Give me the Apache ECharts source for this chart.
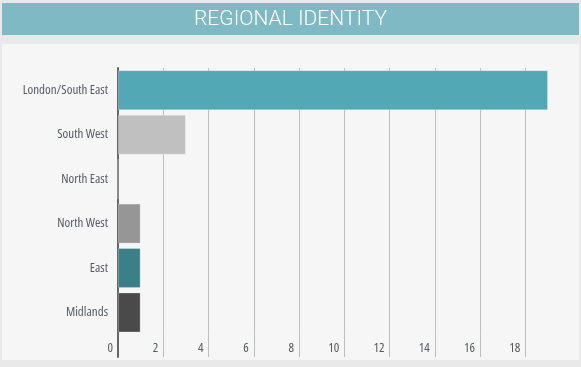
<!DOCTYPE html>
<html>
<head>
<meta charset="utf-8">
<script src="https://cdn.jsdelivr.net/npm/echarts@6/dist/echarts.min.js"></script>
<style>
html,body{margin:0;padding:0;background:#e9e9e9;}
#chart{width:581px;height:367px;}
</style>
</head>
<body>
<div id="chart"></div>
<script>
const titleText = 'REGIONAL IDENTITY';
const categories = ['London/South East', 'South West', 'North East', 'North West', 'East', 'Midlands'];
const values = [19, 3, 0, 1, 1, 1];
const barColors = ['#52a8b5', '#c0c0c0', '#cccccc', '#969696', '#3b7f87', '#4a4a4a'];
const xMin = 0, xMax = 19, xStep = 2;

const labelFont = '"Open Sans", "Liberation Sans", sans-serif';
const labelWeight = '400 condensed';

const chart = echarts.init(document.getElementById('chart'), null, {renderer: 'canvas'});
chart.setOption({
  backgroundColor: '#e9e9e9',
  animation: false,
  title: {
    text: titleText,
    left: 'center',
    top: 7,
    padding: 0,
    textStyle: {
      color: '#ffffff',
      fontFamily: 'Roboto, "Liberation Sans", sans-serif',
      fontWeight: 300,
      fontSize: 21,
      lineHeight: 25
    }
  },
  graphic: [
    {type: 'rect', z: -10, shape: {x: 2, y: 3, width: 577, height: 32}, style: {fill: '#7fbac4'}},
    {type: 'rect', z: -10, shape: {x: 2, y: 44, width: 577, height: 316}, style: {fill: '#f6f6f6'}}
  ],
  grid: [
    {left: 118, right: 33, top: 68, height: 266.7, outerBoundsMode: 'none', containLabel: false},
    {left: 118, right: 33, top: 334.7, bottom: 10, outerBoundsMode: 'none', containLabel: false}
  ],
  xAxis: [
    {
      gridIndex: 0, type: 'value', min: xMin, max: xMax, interval: xStep,
      axisLine: {show: false}, axisTick: {show: false}, axisLabel: {show: false},
      splitLine: {show: true, showMaxLine: false, lineStyle: {color: '#bdbdbd', width: 1}}
    },
    {
      gridIndex: 1, type: 'value', min: xMin, max: xMax, interval: xStep,
      axisLine: {show: false}, axisTick: {show: false},
      splitLine: {show: true, showMaxLine: false, lineStyle: {color: '#bdbdbd', width: 1}},
      axisLabel: {
        inside: true, margin: 2, showMaxLabel: false,
        align: 'right', padding: [0, 5, 0, 0],
        color: '#555a63', fontSize: 13, fontFamily: labelFont, fontWeight: labelWeight
      }
    }
  ],
  yAxis: [
    {
      gridIndex: 0, type: 'category', data: categories, inverse: true,
      axisLine: {show: true, lineStyle: {color: '#666666', width: 2}},
      axisTick: {show: false},
      axisLabel: {margin: 10, color: '#555a66', fontSize: 13, fontFamily: labelFont, fontWeight: labelWeight}
    },
    {
      gridIndex: 1, type: 'category', data: [''],
      axisLine: {show: true, lineStyle: {color: '#666666', width: 2}},
      axisTick: {show: false}, axisLabel: {show: false}
    }
  ],
  series: [{
    type: 'bar',
    xAxisIndex: 0, yAxisIndex: 0,
    barCategoryGap: '10%',
    data: values.map((v, i) => ({value: v, itemStyle: {color: barColors[i]}})),
    itemStyle: {borderColor: 'rgba(255,255,255,0.25)', borderWidth: 1}
  }]
});
</script>
</body>
</html>
